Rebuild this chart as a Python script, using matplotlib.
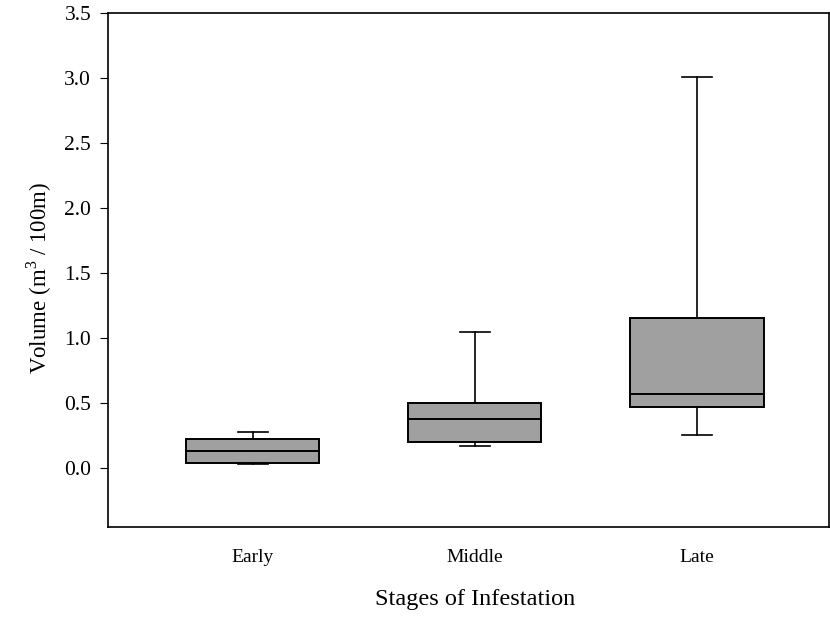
import matplotlib.pyplot as plt

plt.rcParams['font.family'] = 'Liberation Serif'
plt.rcParams['mathtext.fontset'] = 'custom'
plt.rcParams['mathtext.rm'] = 'Liberation Serif'

# box statistics per stage
stages = ['Early', 'Middle', 'Late']
whislo = [0.029, 0.169, 0.256]
q1 = [0.036, 0.202, 0.467]
med = [0.131, 0.379, 0.572]
q3 = [0.223, 0.502, 1.156]
whishi = [0.277, 1.046, 3.008]
yticks = [0, 0.5, 1.0, 1.5, 2.0, 2.5, 3.0, 3.5]

stats = []
for i in range(3):
    stats.append({'label': stages[i], 'whislo': whislo[i], 'q1': q1[i], 'med': med[i],
                  'q3': q3[i], 'whishi': whishi[i], 'fliers': []})

fig = plt.figure(figsize=(8.3, 6.2), dpi=100)
ax = fig.add_axes([0.130, 0.150, 0.869, 0.829])

ax.bxp(stats, positions=[1, 2, 3], widths=0.6, patch_artist=True, showfliers=False,
       boxprops=dict(facecolor='#a0a0a0', edgecolor='black', linewidth=1.4),
       medianprops=dict(color='black', linewidth=1.4),
       whiskerprops=dict(color='black', linewidth=1.2),
       capprops=dict(color='black', linewidth=1.2),
       capwidths=0.135)

ax.set_xlim(0.349, 3.595)
ax.set_ylim(-0.455, 3.5)
ax.set_yticks(yticks)
ax.set_yticklabels(['%.1f' % v for v in yticks])
ax.tick_params(axis='y', direction='out', length=6, labelsize=15.5, pad=6)
ax.tick_params(axis='x', length=0, labelsize=14, pad=16)
for s in ax.spines.values():
    s.set_linewidth(1.2)

ax.set_xlabel('Stages of Infestation', fontsize=17.5, labelpad=18)
ax.xaxis.set_label_coords(0.509, -0.12)
ax.set_ylabel('Volume (m$^{3}$ / 100m)', fontsize=16.5, labelpad=6)
ax.yaxis.set_label_coords(-0.075, 0.485)

fig.savefig('out.png', dpi=100)
